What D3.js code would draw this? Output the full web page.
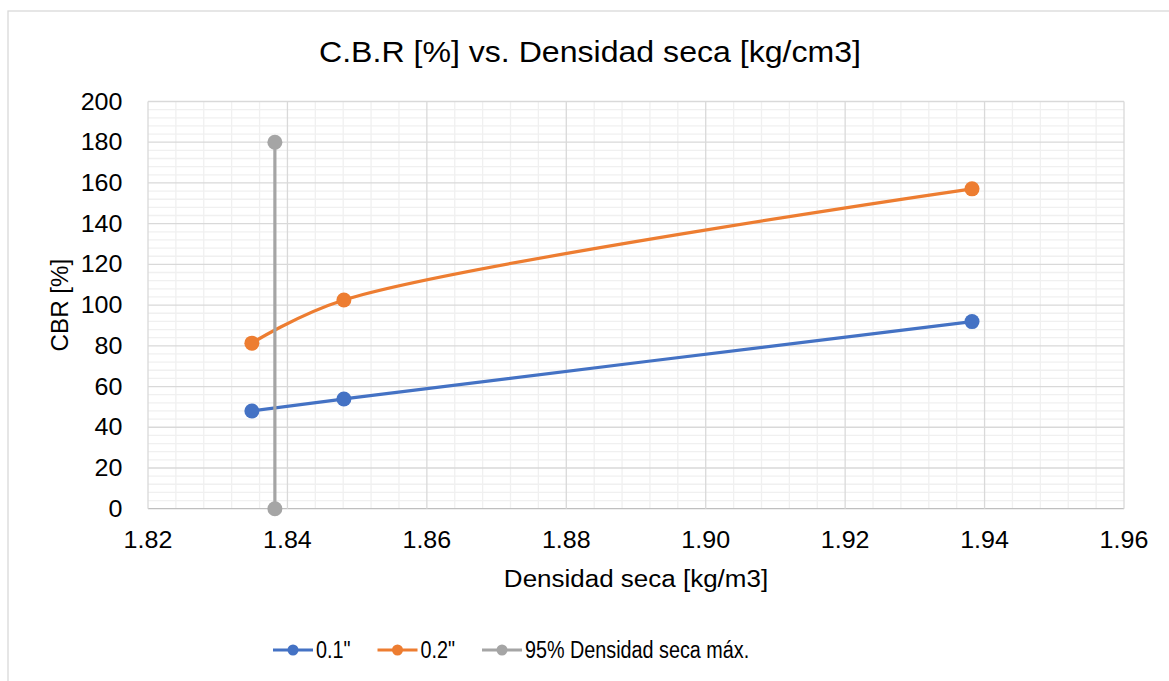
<!DOCTYPE html>
<html>
<head>
<meta charset="utf-8">
<script src="https://cdn.jsdelivr.net/npm/d3@7"></script>
<style>
  body { margin: 0; background: #fff; }
  text { font-family: "Liberation Sans", Arial, sans-serif; fill: #000; }
</style>
</head>
<body>
<svg id="chart" width="1169" height="681"></svg>
<script>
// Data
const density = [1.8349, 1.8481, 1.9382]
const cbr01 = [48.0, 53.9, 91.9]
const cbr02 = [81.3, 102.5, 157.1]
const maxDensityX = [1.8382, 1.8382]
const maxDensityY = [180, 0]
const xTicks = [1.82, 1.84, 1.86, 1.88, 1.90, 1.92, 1.94, 1.96]
const yTicks = [0, 20, 40, 60, 80, 100, 120, 140, 160, 180, 200]
const seriesNames = ['0.1"', '0.2"', '95% Densidad seca máx.']
const seriesColors = ['#4472C4', '#ED7D31', '#A5A5A5']

const svg = d3.select('#chart')
const plotLeft = 148, plotRight = 1124, plotTop = 101.5, plotBottom = 508.7

let x = d3.scaleLinear().domain([1.82, 1.96]).range([plotLeft, plotRight])
let y = d3.scaleLinear().domain([0, 200]).range([plotBottom, plotTop])

// text glyphs in the original are a bit stretched / squeezed, hence sx
function label(str, px, py, size, anchor, sx, rot) {
  return svg.append('text')
    .attr('transform', `translate(${px},${py}) rotate(${rot || 0}) scale(${sx},1)`)
    .attr('text-anchor', anchor)
    .style('font-size', size + 'px')
    .text(str)
}

// outer chart border
svg.append('rect')
  .attr('x', 8).attr('y', 11).attr('width', 1200).attr('height', 700)
  .attr('fill', 'none').attr('stroke', '#d9d9d9').attr('stroke-width', 1.3)

// minor grid (every 4 on y, 0.004 on x)
const minorY = d3.range(0, 201, 4).filter(v => v % 20 !== 0)
const minorX = d3.range(0, 36).map(i => 1.82 + i * 0.004).filter((v, i) => i % 5 !== 0)

svg.append('g').selectAll('line').data(minorY).enter().append('line')
  .attr('x1', plotLeft).attr('x2', plotRight)
  .attr('y1', d => y(d)).attr('y2', d => y(d))
  .attr('stroke', '#f0f0f0').attr('stroke-width', 1.3)
svg.append('g').selectAll('line').data(minorX).enter().append('line')
  .attr('y1', plotTop).attr('y2', plotBottom)
  .attr('x1', d => x(d)).attr('x2', d => x(d))
  .attr('stroke', '#f0f0f0').attr('stroke-width', 1.3)

// major grid
svg.append('g').selectAll('line').data(yTicks).enter().append('line')
  .attr('x1', plotLeft).attr('x2', plotRight)
  .attr('y1', d => y(d)).attr('y2', d => y(d))
  .attr('stroke', d => d === 0 ? '#bfbfbf' : '#d9d9d9').attr('stroke-width', 1.3)
svg.append('g').selectAll('line').data(xTicks).enter().append('line')
  .attr('y1', plotTop).attr('y2', plotBottom)
  .attr('x1', d => x(d)).attr('x2', d => x(d))
  .attr('stroke', '#d9d9d9').attr('stroke-width', 1.3)

// tick labels
yTicks.forEach(v => label(v, plotLeft - 25.5, y(v) + 8, 23, 'end', 1.09))
xTicks.forEach(v => label(v.toFixed(2), x(v), plotBottom + 39.5, 23, 'middle', 1.09))

// titles
label('C.B.R [%] vs. Densidad seca [kg/cm3]', 590, 61.5, 30, 'middle', 1.07)
label('Densidad seca [kg/m3]', (plotLeft + plotRight) / 2, 586.5, 23, 'middle', 1.13)
label('CBR [%]', 67.5, (plotTop + plotBottom) / 2, 23, 'middle', 1.05, -90)

// series
const series = [
  { xs: density, ys: cbr01 },
  { xs: density, ys: cbr02 },
  { xs: maxDensityX, ys: maxDensityY }
]
const line = d3.line()
  .x(d => x(d[0])).y(d => y(d[1]))
  .curve(d3.curveCatmullRom.alpha(0.5))

series.forEach((s, i) => {
  const pts = s.xs.map((v, j) => [v, s.ys[j]])
  svg.append('path').datum(pts)
    .attr('d', line)
    .attr('fill', 'none')
    .attr('stroke', seriesColors[i])
    .attr('stroke-width', 3.2)
    .attr('stroke-linecap', 'round')
  svg.append('g').selectAll('circle').data(pts).enter().append('circle')
    .attr('cx', d => x(d[0])).attr('cy', d => y(d[1]))
    .attr('r', 7.5)
    .attr('fill', seriesColors[i])
})

// legend
let lx = 273
const ly = 650
const legendSx = 0.86
seriesNames.forEach((name, i) => {
  svg.append('line')
    .attr('x1', lx).attr('x2', lx + 40).attr('y1', ly).attr('y2', ly)
    .attr('stroke', seriesColors[i]).attr('stroke-width', 3.2)
  svg.append('circle')
    .attr('cx', lx + 20).attr('cy', ly).attr('r', 5.5)
    .attr('fill', seriesColors[i])
  const t = label(name, lx + 43, 657.5, 23, 'start', legendSx)
  lx += 43 + t.node().getComputedTextLength() * legendSx + 27
})
</script>
</body>
</html>
